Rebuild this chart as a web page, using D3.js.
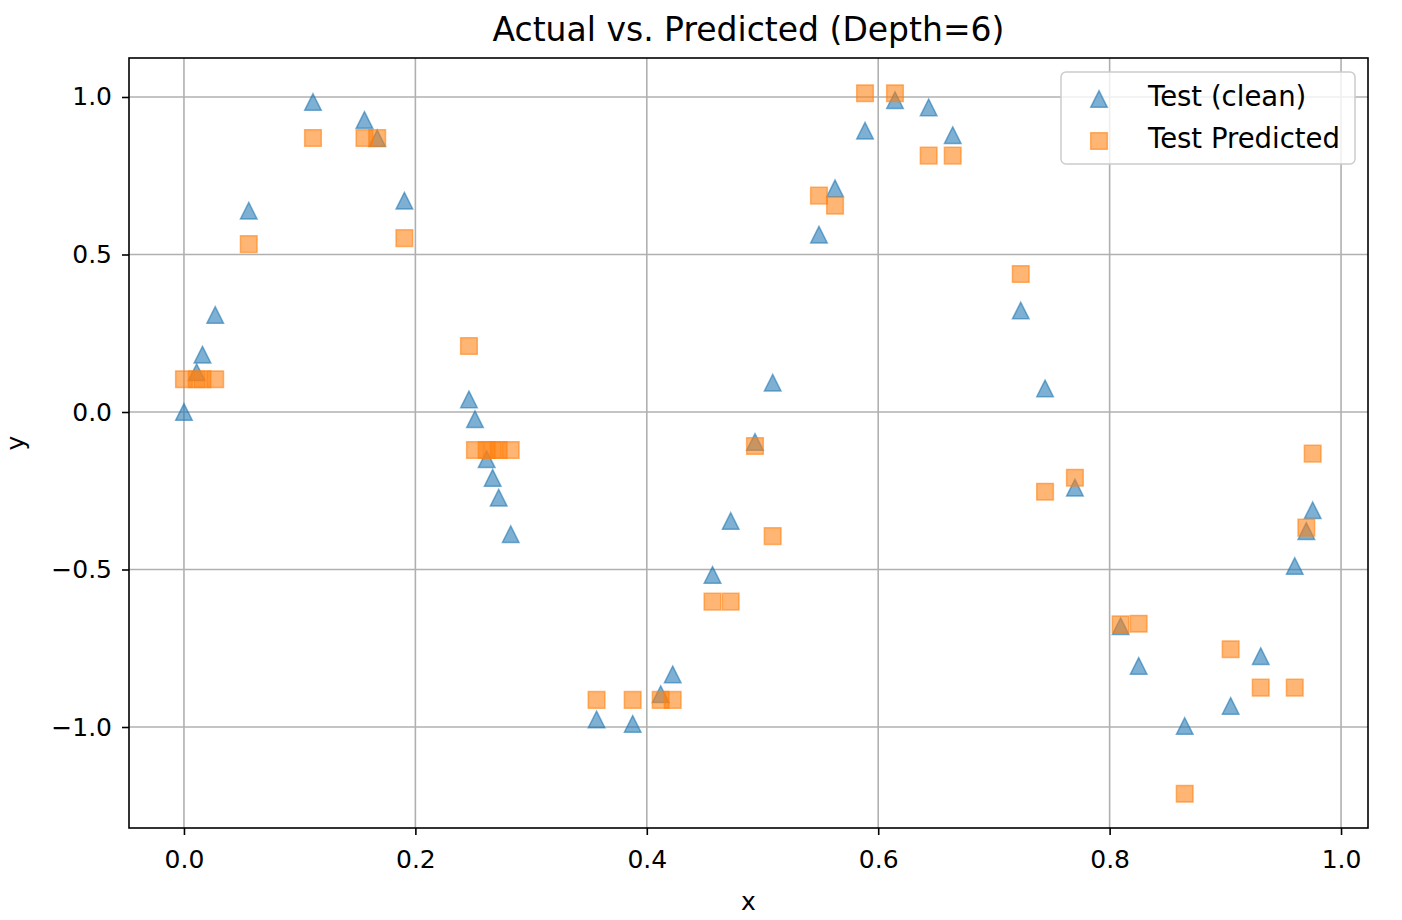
<!DOCTYPE html>
<meta charset="utf-8">
<style>
body { margin: 0; background: #fff; }
text { font-family: "DejaVu Sans", sans-serif; fill: #000; }
.grid line { stroke: #b0b0b0; stroke-width: 1.6px; }
.axis path, .axis line { stroke: #000; stroke-width: 1.6px; }
.axis text { font-size: 25px; }
</style>
<body>
<script src="https://d3js.org/d3.v7.min.js"></script>
<script>

// test inputs and targets
var xs = [0.000, 0.011, 0.016, 0.027, 0.056, 0.1115, 0.156, 0.167, 0.1905, 0.2463,
          0.2515, 0.2616, 0.2668, 0.272, 0.2824, 0.3566, 0.3878, 0.412, 0.4224, 0.4568,
          0.4725, 0.4935, 0.5088, 0.5488, 0.5627, 0.5886, 0.6145, 0.6436, 0.6644, 0.7232,
          0.7442, 0.770, 0.8095, 0.8251, 0.8649, 0.9046, 0.9306, 0.960, 0.970, 0.9755];

var yClean = [0.0, 0.126, 0.182, 0.308, 0.639, 0.984, 0.927, 0.869, 0.671, 0.040,
              -0.023, -0.150, -0.209, -0.272, -0.388, -0.976, -0.990, -0.896, -0.833, -0.517,
              -0.346, -0.095, 0.093, 0.563, 0.710, 0.893, 0.990, 0.967, 0.879, 0.322,
              0.075, -0.240, -0.680, -0.806, -0.997, -0.933, -0.775, -0.489, -0.378, -0.312];

var yPred = [0.104, 0.104, 0.104, 0.104, 0.533, 0.870, 0.870, 0.870, 0.552, 0.2095,
             -0.1206, -0.1206, -0.1206, -0.1206, -0.1206, -0.914, -0.914, -0.914, -0.914, -0.602,
             -0.602, -0.108, -0.394, 0.687, 0.655, 1.012, 1.012, 0.814, 0.814, 0.438,
             -0.253, -0.2086, -0.674, -0.672, -1.212, -0.753, -0.875, -0.875, -0.367, -0.132];

var xTicks = [0, 0.2, 0.4, 0.6, 0.8, 1.0];
var yTicks = [-1.0, -0.5, 0.0, 0.5, 1.0];

var W = 1402, H = 920;
var pLeft = 129, pTop = 58, pRight = 1368, pBottom = 828;

var x = d3.scaleLinear().domain([-0.0475, 1.0233]).range([pLeft, pRight]);
var y = d3.scaleLinear().domain([-1.3206, 1.1238]).range([pBottom, pTop]);

var fmt = function(d) { return d3.format(".1f")(d).replace("-", "\u2212"); };

var svg = d3.select("body").append("svg")
    .attr("width", W)
    .attr("height", H);

// grid
var grid = svg.append("g").attr("class", "grid");
grid.selectAll(".gx").data(xTicks).enter().append("line")
    .attr("x1", function(d) { return x(d); }).attr("x2", function(d) { return x(d); })
    .attr("y1", pTop).attr("y2", pBottom);
grid.selectAll(".gy").data(yTicks).enter().append("line")
    .attr("y1", function(d) { return y(d); }).attr("y2", function(d) { return y(d); })
    .attr("x1", pLeft).attr("x2", pRight);

// marker shapes (matplotlib style '^' and 's')
function tri(r) { return "M0," + (-r) + "L" + r + "," + r + "L" + (-r) + "," + r + "Z"; }
function sq(r) { return "M" + (-r) + "," + (-r) + "H" + r + "V" + r + "H" + (-r) + "Z"; }

var blue = "#1f77b4", orange = "#ff7f0e";
var alpha = 0.58;

var pts = xs.map(function(v, i) { return {x: v, a: yClean[i], p: yPred[i]}; });

svg.append("g").selectAll("path").data(pts).enter().append("path")
    .attr("d", tri(8.3))
    .attr("transform", function(d) { return "translate(" + x(d.x) + "," + y(d.a) + ")"; })
    .style("fill", blue).style("fill-opacity", alpha)
    .style("stroke", blue).style("stroke-opacity", alpha).style("stroke-width", 1.5);

svg.append("g").selectAll("path").data(pts).enter().append("path")
    .attr("d", sq(8.3))
    .attr("transform", function(d) { return "translate(" + x(d.x) + "," + y(d.p) + ")"; })
    .style("fill", orange).style("fill-opacity", alpha)
    .style("stroke", orange).style("stroke-opacity", alpha).style("stroke-width", 1.5);

// axes
svg.append("g").attr("class", "axis")
    .attr("transform", "translate(0," + pBottom + ")")
    .call(d3.axisBottom(x).tickValues(xTicks).tickFormat(fmt).tickSizeInner(7).tickSizeOuter(0).tickPadding(15))
    .call(function(g) { g.select(".domain").remove(); });

svg.append("g").attr("class", "axis")
    .attr("transform", "translate(" + pLeft + ",0)")
    .call(d3.axisLeft(y).tickValues(yTicks).tickFormat(fmt).tickSizeInner(7).tickSizeOuter(0).tickPadding(10))
    .call(function(g) { g.select(".domain").remove(); });

// frame
svg.append("rect")
    .attr("x", pLeft).attr("y", pTop)
    .attr("width", pRight - pLeft).attr("height", pBottom - pTop)
    .style("fill", "none").style("stroke", "#000").style("stroke-width", 1.6);

// labels
svg.append("text")
    .attr("x", (pLeft + pRight) / 2).attr("y", 41)
    .attr("text-anchor", "middle")
    .style("font-size", "33px")
    .text("Actual vs. Predicted (Depth=6)");

svg.append("text")
    .attr("x", (pLeft + pRight) / 2).attr("y", 910)
    .attr("text-anchor", "middle")
    .style("font-size", "25px")
    .text("x");

svg.append("text")
    .attr("transform", "translate(24," + ((pTop + pBottom) / 2) + ") rotate(-90)")
    .attr("text-anchor", "middle")
    .style("font-size", "25px")
    .text("y");

// legend
var lg = svg.append("g").attr("transform", "translate(1061,72)");
lg.append("rect")
    .attr("width", 294).attr("height", 92).attr("rx", 5)
    .style("fill", "#fff").style("fill-opacity", 0.8)
    .style("stroke", "#ccc").style("stroke-width", 1.5);

var items = [
  {label: "Test (clean)", shape: tri(8.3), color: blue},
  {label: "Test Predicted", shape: sq(8.3), color: orange}
];

items.forEach(function(it, i) {
  lg.append("path")
      .attr("d", it.shape)
      .attr("transform", "translate(38," + (27 + i * 42) + ")")
      .style("fill", it.color).style("fill-opacity", alpha)
      .style("stroke", it.color).style("stroke-opacity", alpha).style("stroke-width", 1.5);
  lg.append("text")
      .attr("x", 87).attr("y", 24 + i * 42)
      .attr("dy", "0.35em")
      .style("font-size", "27.5px")
      .text(it.label);
});

</script>
</body>
